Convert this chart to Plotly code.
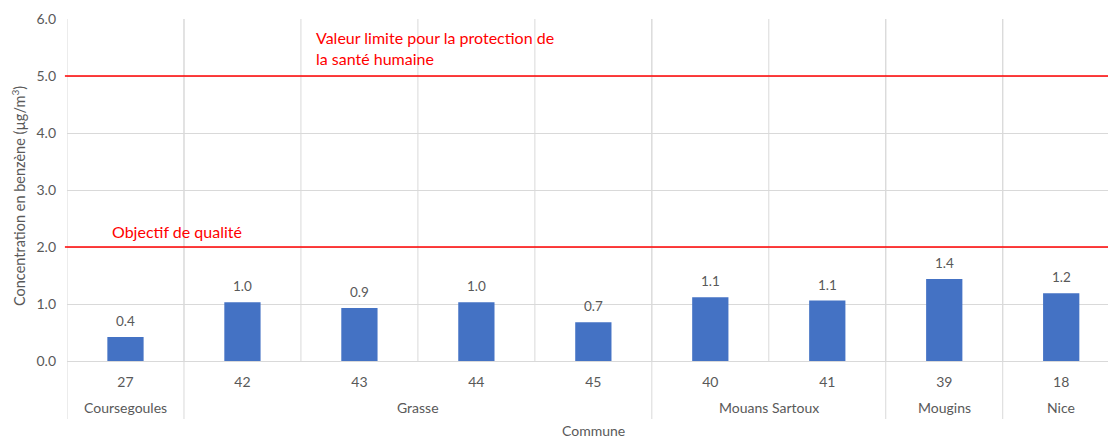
import plotly.graph_objects as go

# Station numbers, the commune each belongs to, and measured benzene concentration
stations = ["27", "42", "43", "44", "45", "40", "41", "39", "18"]
communes = ["Coursegoules", "Grasse", "Grasse", "Grasse", "Grasse",
            "Mouans Sartoux", "Mouans Sartoux", "Mougins", "Nice"]
benzene = [0.42, 1.03, 0.93, 1.03, 0.68, 1.12, 1.06, 1.44, 1.19]

# Regulatory thresholds (µg/m³)
limit_value = 5.0
quality_objective = 2.0

FONT = "Lato, 'Open Sans', sans-serif"
GREY = "#595959"
GRID = "#D9D9D9"
RED = "#FF0000"

W, H = 1108, 438
L, R, T, B = 67, 0, 19, 77
PW, PH = W - L - R, H - T - B


def px_x(x):
    return (x - L) / PW


def px_y(y):
    return (H - B - y) / PH


n = len(stations)
idx = list(range(n))

fig = go.Figure()
fig.add_trace(go.Bar(
    x=idx, y=benzene, width=0.31,
    marker=dict(color="#4472C4", line=dict(width=0)),
    hoverinfo="skip",
))

shapes = []
# Vertical separators between stations inside the plot area
for i in range(n - 1):
    shapes.append(dict(type="line", xref="x", yref="y", x0=i + 0.5, x1=i + 0.5,
                       y0=0, y1=6, line=dict(color=GRID, width=1), layer="below"))

# Longer separators at commune boundaries, running through the label rows
bounds = [-0.5]
for i in range(1, n):
    if communes[i] != communes[i - 1]:
        bounds.append(i - 0.5)
for b in bounds:
    shapes.append(dict(type="line", xref="x", yref="paper", x0=b, x1=b,
                       y0=1, y1=px_y(419), line=dict(color=GRID, width=1), layer="below"))

# Threshold lines
for v in (limit_value, quality_objective):
    shapes.append(dict(type="line", xref="paper", yref="y", x0=-0.002, x1=1,
                       y0=v, y1=v, line=dict(color=RED, width=1.6)))

annotations = []
# Value labels above the bars
for i, v in zip(idx, benzene):
    annotations.append(dict(x=i, y=v, xref="x", yref="y", text=f"{v:.1f}",
                            showarrow=False, yanchor="bottom", yshift=6,
                            font=dict(family=FONT, size=13.5, color=GREY)))

# Commune labels centred under their stations
groups = []
for i, c in enumerate(communes):
    if groups and groups[-1][0] == c:
        groups[-1][2] = i
    else:
        groups.append([c, i, i])
for c, a, b in groups:
    annotations.append(dict(x=(a + b) / 2, y=px_y(408), xref="x", yref="paper", text=c,
                            showarrow=False, yanchor="middle",
                            font=dict(family=FONT, size=14, color=GREY)))

annotations.append(dict(x=(n - 1) / 2, y=px_y(430), xref="x", yref="paper", text="Commune",
                        showarrow=False, yanchor="middle",
                        font=dict(family=FONT, size=14, color=GREY)))

annotations.append(dict(x=px_x(18), y=px_y(196), xref="paper", yref="paper",
                        text="Concentration en benzène (µg/m<sup>3</sup>)",
                        showarrow=False, textangle=-90, xanchor="center", yanchor="middle",
                        font=dict(family=FONT, size=14.5, color=GREY)))

annotations.append(dict(x=px_x(314), y=px_y(26), xref="paper", yref="paper",
                        text="Valeur limite pour la protection de<br>la santé humaine",
                        showarrow=False, xanchor="left", yanchor="top", align="left",
                        font=dict(family=FONT, size=16, color=RED)))
annotations.append(dict(x=px_x(110), y=px_y(231), xref="paper", yref="paper",
                        text="Objectif de qualité",
                        showarrow=False, xanchor="left", yanchor="middle", align="left",
                        font=dict(family=FONT, size=16, color=RED)))

fig.update_layout(
    width=W, height=H,
    margin=dict(l=L, r=R, t=T, b=B, pad=0),
    paper_bgcolor="white", plot_bgcolor="white",
    showlegend=False,
    shapes=shapes,
    annotations=annotations,
    xaxis=dict(
        range=[-0.5, n - 0.6], tickmode="array", tickvals=idx, ticktext=stations,
        showgrid=False, zeroline=False, showline=True, linecolor=GRID, linewidth=1,
        ticks="outside", ticklen=8, tickcolor="rgba(0,0,0,0)",
        tickfont=dict(family=FONT, size=14, color=GREY),
        fixedrange=True,
    ),
    yaxis=dict(
        range=[0, 6], dtick=1, tickformat=".1f",
        showgrid=True, gridcolor=GRID, gridwidth=1, zeroline=False,
        showline=False, ticks="", ticklabelstandoff=10,
        tickfont=dict(family=FONT, size=14, color=GREY),
        fixedrange=True,
    ),
)

fig.write_html("out.html")
